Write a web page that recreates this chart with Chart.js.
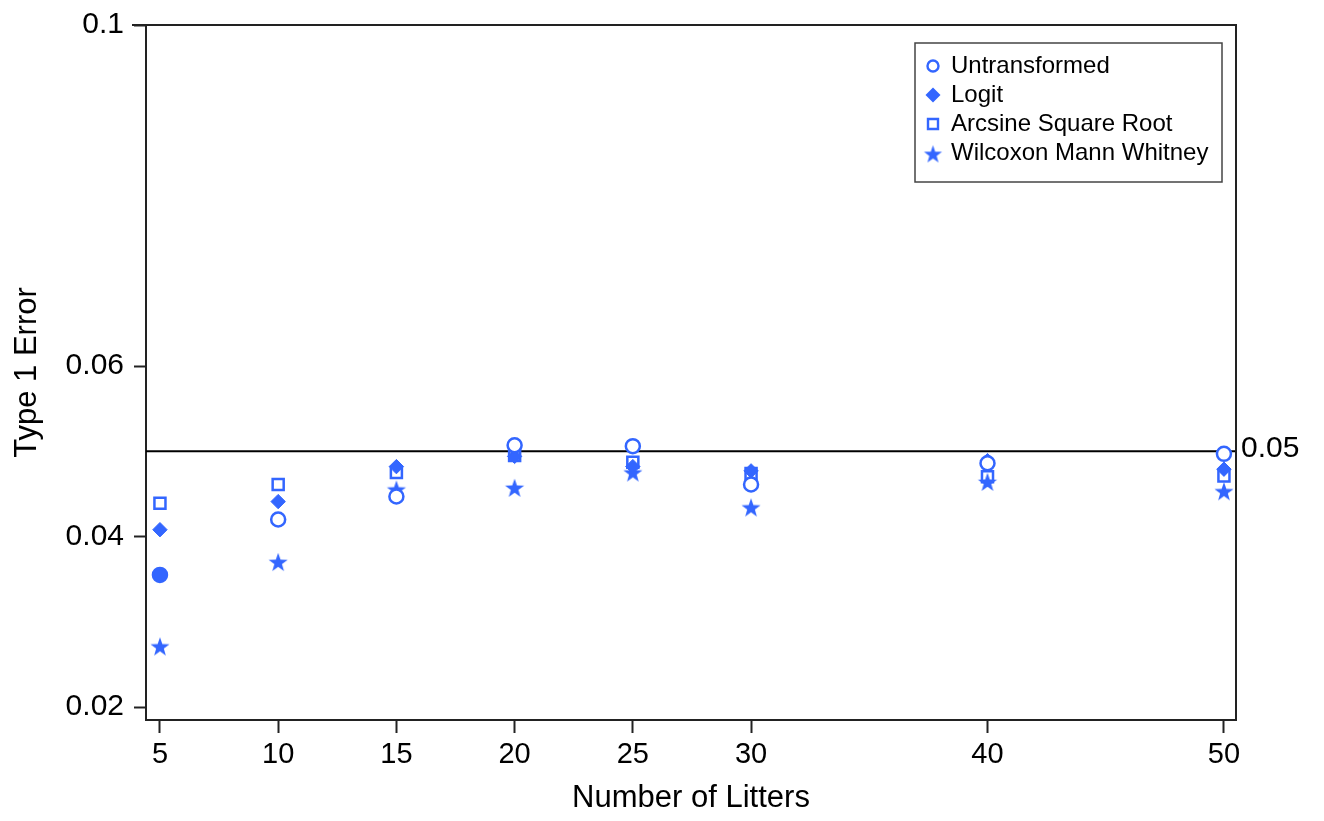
<!DOCTYPE html>
<html>
<head>
<meta charset="utf-8">
<script src="https://cdn.jsdelivr.net/npm/chart.js@4.4.0/dist/chart.umd.min.js"></script>
<style>
    html, body { margin: 0; padding: 0; background: #fff; }
    #wrap { width: 1324px; height: 821px; }
</style>
</head>
<body>
<div id="wrap"><canvas id="errorChart"></canvas></div>
<script>
// data
const litters = [5, 10, 15, 20, 25, 30, 40, 50];
const untransformed = [0.0355, 0.0420, 0.0447, 0.0507, 0.0506, 0.0461, 0.0486, 0.0497];
const logit = [0.0408, 0.0441, 0.0482, 0.0494, 0.0482, 0.0477, 0.0489, 0.0479];
const arcsine = [0.0439, 0.0461, 0.0475, 0.0495, 0.0487, 0.0474, 0.0470, 0.0471];
const wilcoxon = [0.0271, 0.0370, 0.0455, 0.0457, 0.0475, 0.0434, 0.0464, 0.0453];
const yTickValues = [0.02, 0.04, 0.06, 0.1];
const nominalLevel = 0.05;

const blue = '#3366ff';
const axisColor = '#222';
const fontFamily = '"Liberation Sans", Arial, Helvetica, sans-serif';

function makeStar(outer, color) {
    const inner = outer * 0.4;
    const size = Math.ceil(outer * 2 + 2);
    const c = document.createElement('canvas');
    c.width = size;
    c.height = size;
    const g = c.getContext('2d');
    g.fillStyle = color;
    g.beginPath();
    for (let i = 0; i < 10; i++) {
        const r = i % 2 === 0 ? outer : inner;
        const a = -Math.PI / 2 + i * Math.PI / 5;
        const px = size / 2 + r * Math.cos(a);
        const py = size / 2 + 0.8 + r * Math.sin(a);
        if (i === 0) g.moveTo(px, py); else g.lineTo(px, py);
    }
    g.closePath();
    g.fill();
    return c;
}

const starPoint = makeStar(10, blue);
const starLegend = makeStar(9.5, blue);

function toPoints(values) {
    return litters.map((x, i) => ({ x: x, y: values[i] }));
}

// frame, reference line and boxed legend
const framePlugin = {
    id: 'frame',
    beforeDatasetsDraw(chart) {
        const { ctx, chartArea } = chart;
        const y = chart.scales.y.getPixelForValue(nominalLevel);
        ctx.save();
        ctx.strokeStyle = '#000';
        ctx.lineWidth = 2;
        ctx.beginPath();
        ctx.moveTo(chartArea.left, y);
        ctx.lineTo(chartArea.right, y);
        ctx.stroke();
        ctx.restore();
    },
    afterDraw(chart) {
        const { ctx, chartArea } = chart;
        ctx.save();
        ctx.strokeStyle = axisColor;
        ctx.lineWidth = 2;
        ctx.beginPath();
        ctx.moveTo(chartArea.left - 14, chartArea.top);
        ctx.lineTo(chartArea.right, chartArea.top);
        ctx.lineTo(chartArea.right, chartArea.bottom + 1);
        ctx.stroke();

        // label of the 0.05 line
        const y = chart.scales.y.getPixelForValue(nominalLevel);
        ctx.fillStyle = '#000';
        ctx.font = '30px ' + fontFamily;
        ctx.textAlign = 'left';
        ctx.textBaseline = 'middle';
        ctx.fillText(String(nominalLevel), chartArea.right + 5, y - 3);

        // legend
        const bx = chartArea.right - 321, by = chartArea.top + 18, bw = 307, bh = 139;
        ctx.fillStyle = '#fff';
        ctx.fillRect(bx, by, bw, bh);
        ctx.strokeStyle = '#444';
        ctx.lineWidth = 1.5;
        ctx.strokeRect(bx, by, bw, bh);
        ctx.font = '24px ' + fontFamily;
        chart.data.datasets.forEach((ds, i) => {
            const cy = by + 23 + i * 29;
            const cx = bx + 18;
            ctx.fillStyle = blue;
            ctx.strokeStyle = blue;
            ctx.lineWidth = 2.4;
            ctx.beginPath();
            if (ds.pointStyle === 'circle') {
                ctx.arc(cx, cy, 5.5, 0, Math.PI * 2);
                ctx.stroke();
            } else if (ds.pointStyle === 'rectRot') {
                ctx.moveTo(cx - 7.5, cy);
                ctx.lineTo(cx, cy - 7.5);
                ctx.lineTo(cx + 7.5, cy);
                ctx.lineTo(cx, cy + 7.5);
                ctx.closePath();
                ctx.fill();
            } else if (ds.pointStyle === 'rect') {
                ctx.rect(cx - 5, cy - 5, 10, 10);
                ctx.stroke();
            } else {
                ctx.drawImage(starLegend, cx - starLegend.width / 2, cy - starLegend.height / 2 + 1);
            }
            ctx.fillStyle = '#000';
            ctx.fillText(ds.label, bx + 36, cy);
        });
        ctx.restore();
    }
};

new Chart(document.getElementById('errorChart'), {
    type: 'scatter',
    data: {
        datasets: [
            {
                label: 'Untransformed',
                data: toPoints(untransformed),
                pointStyle: 'circle',
                pointRadius: 7,
                borderWidth: 2.5,
                borderColor: blue,
                backgroundColor: ctx => ctx.dataIndex === 0 ? blue : '#fff'
            },
            {
                label: 'Logit',
                data: toPoints(logit),
                pointStyle: 'rectRot',
                pointRadius: 7.2,
                borderWidth: 1,
                borderColor: blue,
                backgroundColor: blue
            },
            {
                label: 'Arcsine Square Root',
                data: toPoints(arcsine),
                pointStyle: 'rect',
                pointRadius: 7.8,
                borderWidth: 2.5,
                borderColor: blue,
                backgroundColor: 'rgba(255,255,255,0)'
            },
            {
                label: 'Wilcoxon Mann Whitney',
                data: toPoints(wilcoxon),
                pointStyle: starPoint,
                pointRadius: 10,
                borderColor: blue,
                backgroundColor: blue
            }
        ]
    },
    options: {
        responsive: true,
        maintainAspectRatio: false,
        animation: false,
        events: [],
        layout: { padding: { left: 0, right: 88, top: 24, bottom: 0 } },
        plugins: {
            legend: { display: false },
            tooltip: { enabled: false }
        },
        scales: {
            x: {
                type: 'linear',
                min: 4.41,
                max: 50.51,
                afterBuildTicks: s => { s.ticks = litters.map(v => ({ value: v })); },
                afterFit: s => { s.height = 101; },
                grid: { drawOnChartArea: false, drawTicks: true, tickLength: 13, tickWidth: 2, tickColor: axisColor },
                border: { display: true, width: 2, color: axisColor },
                ticks: {
                    autoSkip: false,
                    maxRotation: 0,
                    padding: 5,
                    color: '#000',
                    font: { family: fontFamily, size: 29 },
                    callback: v => String(v)
                },
                title: {
                    display: true,
                    text: 'Number of Litters',
                    color: '#000',
                    font: { family: fontFamily, size: 31 },
                    padding: { top: 0, bottom: 4 }
                }
            },
            y: {
                min: 0.01848,
                max: 0.1,
                afterBuildTicks: s => { s.ticks = yTickValues.map(v => ({ value: v })); },
                afterFit: s => { s.width = 146; },
                grid: { drawOnChartArea: false, drawTicks: true, tickLength: 12, tickWidth: 2, tickColor: axisColor },
                border: { display: true, width: 2, color: axisColor },
                ticks: {
                    padding: 10,
                    color: '#000',
                    font: { family: fontFamily, size: 30, lineHeight: 1 },
                    callback: v => String(v)
                },
                title: {
                    display: true,
                    text: 'Type 1 Error',
                    color: '#000',
                    font: { family: fontFamily, size: 31 },
                    padding: { top: 9, bottom: 0 }
                }
            }
        }
    },
    plugins: [framePlugin]
});
</script>
</body>
</html>
